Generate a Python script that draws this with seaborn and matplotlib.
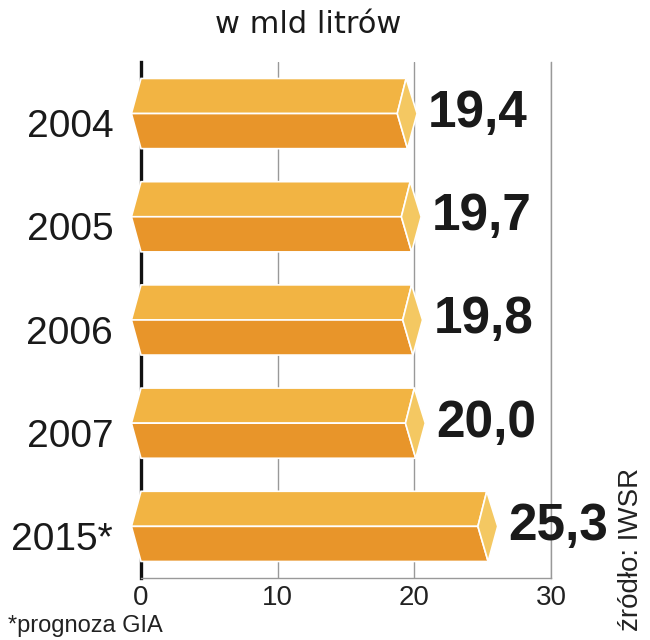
import matplotlib
matplotlib.use("Agg")
import matplotlib.pyplot as plt
import matplotlib.transforms as mtransforms
from matplotlib.patches import Polygon
import seaborn as sns

# data
years = ["2004", "2005", "2006", "2007", "2015*"]
values = [19.4, 19.7, 19.8, 20.0, 25.3]
x_ticks = [0, 10, 20, 30]

top_col = "#F2B443"
bottom_col = "#E8952A"
cap_col = "#F4C862"

sns.set_style("white")
plt.rcParams['font.family'] = ['Liberation Sans', 'DejaVu Sans']
narrow = ['Liberation Sans Narrow', 'Liberation Sans', 'DejaVu Sans']

fig = plt.figure(figsize=(6.5, 6.4), dpi=100)
ax = fig.add_axes([0.2169, 0.0969, 0.6308, 0.8063])

sns.barplot(x=values, y=years, orient="h", color=bottom_col, width=0.68,
            saturation=1, edgecolor="none", zorder=2.6, ax=ax)

# 3D prism faces on top of each bar
for bar, v in zip(ax.patches, values):
    y0 = bar.get_y()
    h = bar.get_height()
    top, mid, bot = y0, y0 + h / 2, y0 + h
    faces = [
        ([(0, top), (v, top), (v - 0.65, mid), (-0.7, mid)], top_col),
        ([(-0.7, mid), (v - 0.65, mid), (v + 0.1, bot), (0, bot)], bottom_col),
        ([(v, top), (v + 0.8, mid), (v + 0.1, bot), (v - 0.65, mid)], cap_col),
    ]
    for pts, c in faces:
        ax.add_patch(Polygon(pts, closed=True, facecolor=c, edgecolor="white",
                             linewidth=1.2, zorder=3, clip_on=False))
    ax.text(v + 1.6, mid, f"{v:.1f}".replace(".", ","), ha="left", va="center",
            fontsize=37, fontweight="bold", color="#1a1a1a", zorder=4)

ax.set_xlim(0, 30)
ax.set_ylim(4.5, -0.5)
ax.set_xticks(x_ticks)
ax.set_xticklabels([str(t) for t in x_ticks], family=narrow, fontsize=20,
                   color="#222222")
ax.tick_params(axis="x", length=0, pad=5)
ax.tick_params(axis="y", length=0, pad=20, labelsize=28, labelcolor="#1a1a1a")
ax.set_xlabel("")
ax.set_ylabel("")

# push year labels a bit down
offset = mtransforms.ScaledTranslation(0, -7 / 72, fig.dpi_scale_trans)
for lab in ax.get_yticklabels():
    lab.set_transform(lab.get_transform() + offset)

ax.xaxis.grid(True, color="#999999", linewidth=1)
ax.yaxis.grid(False)
ax.set_axisbelow(True)

ax.spines["top"].set_visible(False)
ax.spines["left"].set_color("#111111")
ax.spines["left"].set_linewidth(2.4)
ax.spines["right"].set_color("#999999")
ax.spines["right"].set_linewidth(1)
ax.spines["bottom"].set_color("#999999")
ax.spines["bottom"].set_linewidth(1)

fig.text(0.4746, 0.948, "w mld litrów", ha="center", va="baseline",
         fontsize=22, family="DejaVu Sans", color="#1a1a1a")
fig.text(0.012, 0.012, "*prognoza GIA", ha="left", va="baseline",
         fontsize=17, family=narrow, color="#222222")
fig.text(0.971, 0.141, "źródło: IWSR", ha="center", va="center", rotation=90,
         fontsize=20, family=narrow, color="#222222")

fig.savefig("out.png", dpi=100)
